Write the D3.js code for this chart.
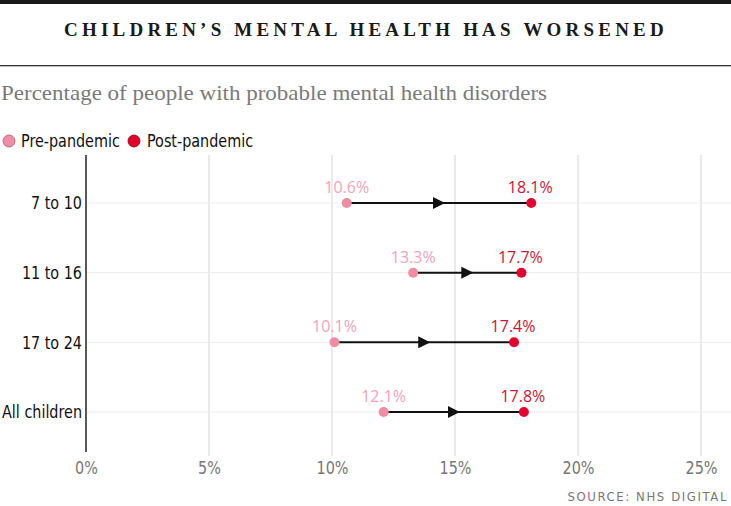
<!DOCTYPE html>
<html><head><meta charset="utf-8">
<script src="https://cdn.jsdelivr.net/npm/d3@7"></script>
<style>
body{margin:0;background:#fff;}
svg{display:block;}
</style></head>
<body><svg id="c" width="731" height="506"></svg>
<script>
const categories = ["7 to 10", "11 to 16", "17 to 24", "All children"];
const preValues = [10.6, 13.3, 10.1, 12.1];
const postValues = [18.1, 17.7, 17.4, 17.8];
const xTicks = [0, 5, 10, 15, 20, 25];
const seriesNames = ["Pre-pandemic", "Post-pandemic"];

const W = 731, H = 506;
const svg = d3.select("#c");
const condensed = "'DejaVu Sans Condensed','Roboto',sans-serif";
const serif = "'Liberation Serif','DejaVu Serif',serif";
const preDot = "#f08ca3", preText = "#f3a3b6";
const postDot = "#e3032d", postText = "#c8173c";
const SX = 0.94;

function ctext(parent, x, y, str, size, fill, anchor, sx) {
  const gg = parent.append("g").attr("transform", `translate(${x},${y}) scale(${sx||SX},1)`);
  return gg.append("text").attr("x",0).attr("y",0).attr("text-anchor",anchor||"start")
    .attr("font-family",condensed).attr("font-size",size).attr("fill",fill).text(str);
}

svg.append("rect").attr("x",0).attr("y",0).attr("width",W).attr("height",4).attr("fill","#1a1a1a");
svg.append("text").attr("x",366).attr("y",36).attr("text-anchor","middle")
  .attr("font-family",serif).attr("font-weight","bold").attr("font-size",19)
  .attr("letter-spacing","4.2px").attr("fill","#1a1a1a")
  .text("CHILDREN\u2019S MENTAL HEALTH HAS WORSENED");
svg.append("rect").attr("x",0).attr("y",65).attr("width",W).attr("height",1.3).attr("fill","#333");
svg.append("text").attr("x",1).attr("y",100)
  .attr("font-family",serif).attr("font-size",21).attr("fill","#7a7a7a")
  .attr("textLength",546).attr("lengthAdjust","spacingAndGlyphs")
  .text("Percentage of people with probable mental health disorders");

const leg = svg.append("g").attr("transform","translate(0,141)");
leg.append("circle").attr("cx",9).attr("cy",0).attr("r",6).attr("fill",preDot).attr("stroke","#a06070").attr("stroke-width",0.8);
ctext(leg, 21, 6, seriesNames[0], 17, "#111");
leg.append("circle").attr("cx",134).attr("cy",0).attr("r",6).attr("fill",postDot).attr("stroke","#800010").attr("stroke-width",0.8);
ctext(leg, 147, 6, seriesNames[1], 17, "#111");

const x = d3.scaleLinear().domain([0,25]).range([86,701]);
const y = d3.scalePoint().domain(categories).range([203,412]);

svg.append("g").selectAll("line").data(xTicks.slice(1)).join("line")
  .attr("x1",d=>x(d)).attr("x2",d=>x(d)).attr("y1",155).attr("y2",456)
  .attr("stroke","#dcdcdc").attr("stroke-width",1.2);
svg.append("g").selectAll("line").data(categories).join("line")
  .attr("x1",86).attr("x2",W).attr("y1",d=>y(d)).attr("y2",d=>y(d))
  .attr("stroke","#ececec").attr("stroke-width",1);

const xAxis = d3.axisBottom(x).tickValues(xTicks).tickFormat(d=>d+"%").tickSize(0).tickPadding(0);
const gx = svg.append("g").attr("transform","translate(0,459)").call(xAxis);
gx.select(".domain").remove();
gx.selectAll("text").attr("font-family",condensed).attr("font-size",17).attr("fill","#777")
  .attr("dy","0.9em").attr("transform",`scale(${SX},1)`);

const yAxis = d3.axisLeft(y).tickSize(0).tickPadding(0);
const gy = svg.append("g").attr("transform","translate(82,0)").call(yAxis);
gy.select(".domain").remove();
gy.selectAll("text").attr("font-family",condensed).attr("font-size",17).attr("fill","#111")
  .attr("dy","0.35em").attr("transform",`scale(${SX},1)`);
svg.append("line").attr("x1",86).attr("x2",86).attr("y1",155).attr("y2",452).attr("stroke","#222").attr("stroke-width",1.5);

svg.append("defs").append("marker").attr("id","arr").attr("viewBox","0 0 10 10")
  .attr("refX",5).attr("refY",5).attr("markerWidth",12).attr("markerHeight",12)
  .attr("markerUnits","userSpaceOnUse").attr("orient","auto")
  .append("path").attr("d","M0,0L10,5L0,10Z").attr("fill","#111");

const rows = categories.map((c,i)=>({c, pre:preValues[i], post:postValues[i]}));
const g = svg.append("g");
g.selectAll(".seg").data(rows).join("line").attr("class","seg")
  .attr("x1",d=>x(d.pre)).attr("x2",d=>x(d.post)).attr("y1",d=>y(d.c)).attr("y2",d=>y(d.c))
  .attr("stroke","#111").attr("stroke-width",2);
g.selectAll(".mid").data(rows).join("path").attr("class","mid")
  .attr("d",d=>{const m=(x(d.pre)+x(d.post))/2; return `M${x(d.pre)},${y(d.c)}L${m},${y(d.c)}`;})
  .attr("stroke","none").attr("marker-end","url(#arr)");
g.selectAll(".pd").data(rows).join("circle").attr("class","pd")
  .attr("cx",d=>x(d.pre)).attr("cy",d=>y(d.c)).attr("r",5).attr("fill",preDot);
g.selectAll(".qd").data(rows).join("circle").attr("class","qd")
  .attr("cx",d=>x(d.post)).attr("cy",d=>y(d.c)).attr("r",5).attr("fill",postDot);
const lf = "'Open Sans','Lato',sans-serif";
g.selectAll(".pl").data(rows).join("text").attr("class","pl")
  .attr("x",d=>x(d.pre)).attr("y",d=>y(d.c)-10).attr("text-anchor","middle")
  .attr("font-family",lf).attr("font-size",16).attr("fill",preText).text(d=>d.pre.toFixed(1)+"%");
g.selectAll(".ql").data(rows).join("text").attr("class","ql")
  .attr("x",d=>x(d.post) - 1).attr("y",d=>y(d.c)-10).attr("text-anchor","middle")
  .attr("font-family",lf).attr("font-size",16).attr("fill",postText).text(d=>d.post.toFixed(1)+"%");

svg.append("text").attr("x",728).attr("y",501).attr("text-anchor","end")
  .attr("font-family",condensed).attr("font-size",13).attr("letter-spacing","1.6px").attr("fill","#777")
  .text("SOURCE: NHS DIGITAL");
</script></body></html>
